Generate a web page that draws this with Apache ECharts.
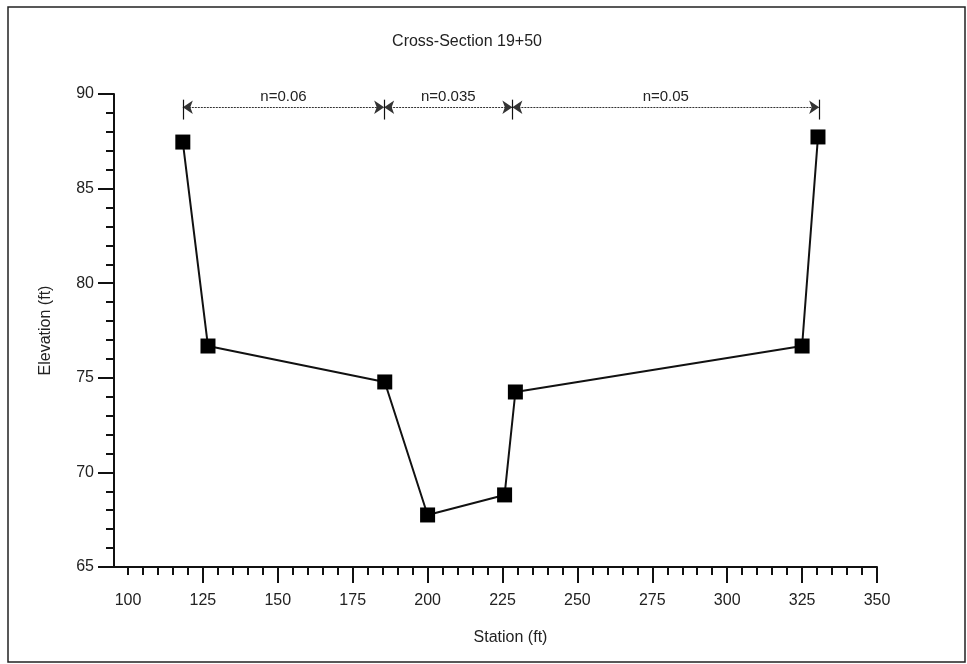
<!DOCTYPE html>
<html>
<head>
<meta charset="utf-8">
<script src="https://cdn.jsdelivr.net/npm/echarts@6/dist/echarts.min.js"></script>
<style>html,body{margin:0;padding:0;background:#fff;}#c{width:967px;height:664px;}</style>
</head>
<body>
<div id="c"></div>
<script>
// Data
const stations = [118.3, 126.7, 185.7, 200, 225.7, 229.3, 325, 330.3];
const elevations = [87.46, 76.68, 74.78, 67.75, 68.81, 74.25, 76.68, 87.73];
const nBoundaries = [118.3, 185.5, 228.3, 330.7];
const nLabels = ['n=0.06', 'n=0.035', 'n=0.05'];
const nLineElevation = 89.3;
const nTickTop = 89.7, nTickBottom = 88.65;
const xLabelValues = [100, 125, 150, 175, 200, 225, 250, 275, 300, 325, 350];
const xMajorTickValues = [125, 150, 175, 200, 225, 250, 275, 300, 325, 350];
const xMinorTickValues = [];
for (let v = 100; v <= 350; v += 5) xMinorTickValues.push(v);

const FONT = 'Liberation Sans';
const INK = '#111';
const TXT = '#222';
const chart = echarts.init(document.getElementById('c'));

const dimSegments = [];
for (let i = 0; i < nLabels.length; i++) {
  dimSegments.push({
    coords: [[nBoundaries[i], nLineElevation], [nBoundaries[i + 1], nLineElevation]],
    label: { formatter: nLabels[i] }
  });
}
const dimTicks = nBoundaries.map(b => ({ coords: [[b, nTickTop], [b, nTickBottom]] }));

const data = stations.map((s, i) => [s, elevations[i]]);

chart.setOption({
  animation: false,
  backgroundColor: '#fff',
  title: {
    text: 'Cross-Section 19+50',
    left: 462, top: 29, textAlign: 'center',
    textStyle: { fontFamily: FONT, fontSize: 16, fontWeight: 'normal', color: TXT }
  },
  graphic: [{
    type: 'rect', shape: { x: 8, y: 7, width: 957, height: 655 },
    style: { fill: null, stroke: '#222', lineWidth: 1.5 }, z: -1
  }],
  grid: { left: 114, right: 90, top: 94, bottom: 97 },
  xAxis: [{
    type: 'value', min: 95.33, max: 350, position: 'bottom',
    name: 'Station (ft)', nameLocation: 'middle', nameGap: 63,
    nameTextStyle: { fontFamily: FONT, fontSize: 16, color: TXT, padding: [0, 0, 0, 30] },
    axisLine: { show: true, onZero: false, lineStyle: { color: INK, width: 2 } },
    axisTick: { show: true, customValues: xMinorTickValues, length: 8, lineStyle: { color: INK, width: 2 } },
    axisLabel: { show: false },
    splitLine: { show: false }
  }, {
    type: 'value', min: 95.33, max: 350, position: 'bottom', gridIndex: 0,
    axisLine: { show: false, onZero: false },
    axisTick: { show: true, customValues: xMajorTickValues, length: 16, lineStyle: { color: INK, width: 2 } },
    axisLabel: { show: true, customValues: xLabelValues, margin: 26, fontFamily: FONT, fontSize: 16, color: TXT },
    splitLine: { show: false }
  }],
  yAxis: {
    type: 'value', min: 65, max: 90, interval: 5,
    name: 'Elevation (ft)', nameLocation: 'middle', nameGap: 60, nameRotate: 90,
    nameTextStyle: { fontFamily: FONT, fontSize: 16, color: TXT },
    axisLine: { show: true, onZero: false, lineStyle: { color: INK, width: 2 } },
    axisTick: { show: true, length: 16, lineStyle: { color: INK, width: 2 } },
    minorTick: { show: true, splitNumber: 5, length: 8, lineStyle: { color: INK, width: 2 } },
    axisLabel: { margin: 20, fontFamily: FONT, fontSize: 16, color: TXT },
    splitLine: { show: false }
  },
  series: [{
    type: 'line', data: data, xAxisIndex: 0,
    symbol: 'rect', symbolSize: 15,
    lineStyle: { color: INK, width: 2 },
    itemStyle: { color: '#000' },
    z: 5
  }, {
    type: 'lines', coordinateSystem: 'cartesian2d', xAxisIndex: 0, clip: false,
    data: dimSegments,
    symbol: ['arrow', 'arrow'], symbolSize: 10,
    lineStyle: { color: '#333', width: 1, type: [2, 1], opacity: 1 },
    label: { show: true, position: 'middle', distance: 3, fontFamily: FONT, fontSize: 15, color: TXT },
    z: 4
  }, {
    type: 'lines', coordinateSystem: 'cartesian2d', xAxisIndex: 0, clip: false,
    data: dimTicks,
    symbol: ['none', 'none'],
    lineStyle: { color: INK, width: 1.2, opacity: 1 },
    z: 4
  }]
});
</script>
</body>
</html>
